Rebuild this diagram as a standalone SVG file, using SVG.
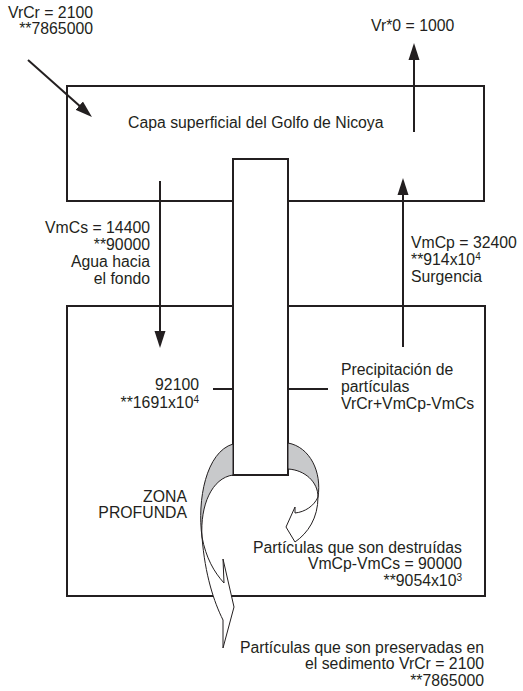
<svg xmlns="http://www.w3.org/2000/svg" width="523" height="691" viewBox="0 0 523 691">
<style>
text{font-family:"Liberation Sans",Arial,sans-serif;font-size:15.8px;fill:#231f20}
.end{text-anchor:end}
.sup{font-size:10px}
.box{fill:none;stroke:#231f20;stroke-width:2}
.pipe{fill:#fff;stroke:#231f20;stroke-width:2}
.line{fill:none;stroke:#231f20;stroke-width:2}
.gray{fill:#c8c9cb;stroke:#231f20;stroke-width:1}
.rib{fill:#fff;stroke:#231f20;stroke-width:1;stroke-linejoin:miter}
</style>
<defs>
<marker id="ah" markerUnits="userSpaceOnUse" markerWidth="18" markerHeight="12" refX="7" refY="6" orient="auto"><path d="M0,0.5 L17,6 L0,11.5 z" fill="#231f20"/></marker>
</defs>
<rect fill="#fff" x="0" y="0" width="523" height="691"/>
<g id="capa-superficial"><rect class="box" x="67" y="86" width="417" height="115"/></g>
<g id="zona-profunda"><rect class="box" x="67" y="306" width="418" height="290"/></g>
<g id="columna"><rect class="pipe" x="233" y="159" width="55" height="316"/></g>
<g id="conectores">
<line class="line" x1="28" y1="60" x2="84.5" y2="110.3" marker-end="url(#ah)"/>
<line class="line" x1="414" y1="132" x2="414" y2="53" marker-end="url(#ah)"/>
<line class="line" x1="160" y1="181" x2="160" y2="338" marker-end="url(#ah)"/>
<line class="line" x1="403" y1="347" x2="403" y2="188" marker-end="url(#ah)"/>
<line class="line" x1="213" y1="389" x2="233" y2="389"/>
<line class="line" x1="288" y1="389" x2="328" y2="389"/>
<path class="gray" d="M233,444 C206,452 197,500 202,537 C200,505 212,478 233,475 Z"/>
<path class="rib" d="M202,537 C205,575 214,602 223,620 L223,648 L234,607 L223,559 L224,583 C214,572 206,558 202,537 Z"/>
<path class="gray" d="M288,443 C310,447 322,472 318,497 C318,482 305,470 288,469 Z"/>
<path class="rib" d="M318,497 C314,506 305,512 295,513 L295,507 L286,527 L295,542 C308,533 318,518 318,497 Z"/>
</g>
<g id="etiquetas">
<text class="end" x="93" y="18">VrCr = 2100</text>
<text class="end" x="93" y="34">**7865000</text>
<text x="371" y="31">Vr*0 = 1000</text>
<text x="128" y="128">Capa superficial del Golfo de Nicoya</text>
<text class="end" x="150" y="233">VmCs = 14400</text>
<text class="end" x="150" y="250">**90000</text>
<text class="end" x="150" y="267">Agua hacia</text>
<text class="end" x="150" y="284">el fondo</text>
<text x="411" y="248">VmCp = 32400</text>
<text x="411" y="265">**914x10<tspan class="sup" dy="-5">4</tspan></text>
<text x="411" y="282">Surgencia</text>
<text class="end" x="199" y="390">92100</text>
<text class="end" x="199" y="408">**1691x10<tspan class="sup" dy="-5">4</tspan></text>
<text x="341" y="375">Precipitación de</text>
<text x="341" y="392">partículas</text>
<text x="341" y="409">VrCr+VmCp-VmCs</text>
<text class="end" x="187" y="502">ZONA</text>
<text class="end" x="187" y="518">PROFUNDA</text>
<text class="end" x="462" y="553">Partículas que son destruídas</text>
<text class="end" x="462" y="569">VmCp-VmCs = 90000</text>
<text class="end" x="462" y="586">**9054x10<tspan class="sup" dy="-5">3</tspan></text>
<text class="end" x="484" y="653">Partículas que son preservadas en</text>
<text class="end" x="484" y="669">el sedimento VrCr = 2100</text>
<text class="end" x="484" y="686">**7865000</text>
</g>
</svg>
